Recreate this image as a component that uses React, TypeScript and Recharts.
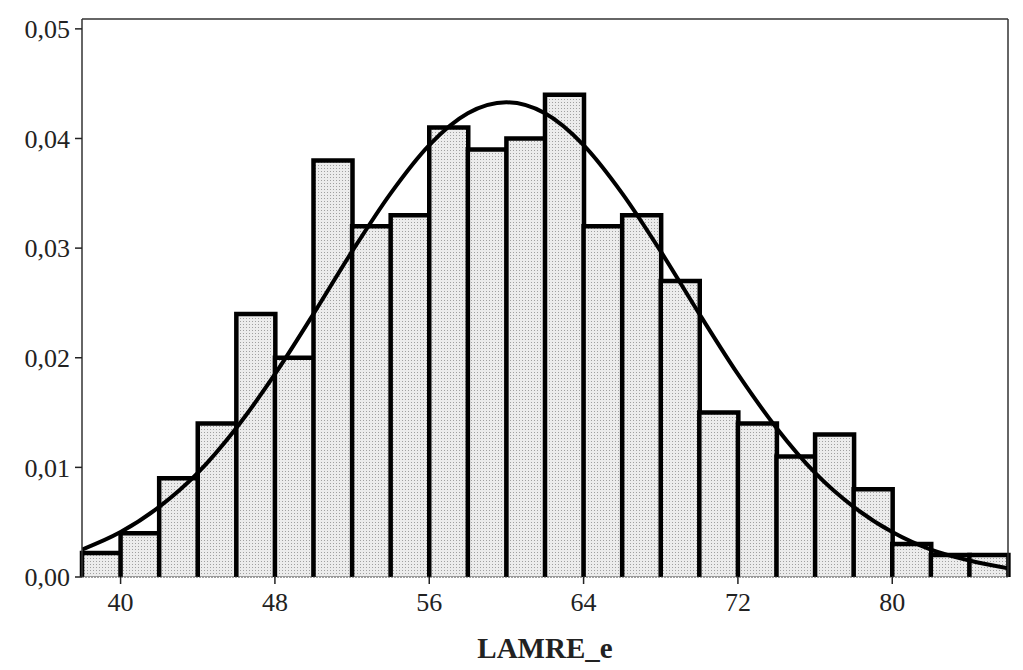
import React from "react";
import { Bar, ComposedChart, Line, XAxis, YAxis } from "recharts";

// histogram bins (width 2) and density per bin
const binLabels = [
  "38-40", "40-42", "42-44", "44-46", "46-48", "48-50", "50-52", "52-54",
  "54-56", "56-58", "58-60", "60-62", "62-64", "64-66", "66-68", "68-70",
  "70-72", "72-74", "74-76", "76-78", "78-80", "80-82", "82-84", "84-86",
];
const densities = [
  0.0022, 0.004, 0.009, 0.014, 0.024, 0.02, 0.038, 0.032, 0.033, 0.041, 0.039,
  0.04, 0.044, 0.032, 0.033, 0.027, 0.015, 0.014, 0.011, 0.013, 0.008, 0.003,
  0.002, 0.002,
];

// fitted curve
const curveX = [
  38, 40, 42, 44, 46, 48, 50, 52, 54, 56, 58, 60, 62, 64, 66, 68, 70, 72, 74,
  76, 78, 80, 82, 84, 86,
];
const curveY = [
  0.0025, 0.0041, 0.0064, 0.0095, 0.0136, 0.0185, 0.024, 0.0297, 0.035,
  0.0394, 0.0423, 0.0433, 0.0423, 0.0394, 0.035, 0.0297, 0.024, 0.0185,
  0.0136, 0.0095, 0.0064, 0.0041, 0.0025, 0.0015, 0.0008,
];

const xTicks = [40, 48, 56, 64, 72, 80];
const yTicks = [0, 0.01, 0.02, 0.03, 0.04, 0.05];

const barData = binLabels.map((bin, i) => ({ bin, density: densities[i] }));
const curveData = curveX.map((x, i) => ({ x, y: curveY[i] }));

const font = "'Liberation Serif', 'Times New Roman', serif";
const tickStyle = { fill: "#222", fontSize: 26, fontFamily: font };
const frame = { stroke: "#333", strokeWidth: 1.5 };

// open-bottom bar outline like the original
const HistBar = (props: any) => {
  const { x, y, width, height } = props;
  if (height == null || height <= 0) return null;
  const b = y + height;
  return (
    <g>
      <rect x={x} y={y} width={width} height={height} fill="url(#dots)" />
      <path
        d={`M${x},${b} L${x},${y} L${x + width},${y} L${x + width},${b}`}
        fill="none"
        stroke="#000"
        strokeWidth={4.5}
      />
    </g>
  );
};

export default function App() {
  return (
    <div style={{ position: "absolute", left: 0, top: 0, background: "#fff" }}>
      <ComposedChart
        width={1023}
        height={670}
        data={barData}
        barCategoryGap={0}
        barGap={0}
        margin={{ top: 18, right: 14, bottom: 0, left: 0 }}
      >
        <defs>
          <pattern id="dots" width="3" height="3" patternUnits="userSpaceOnUse">
            <rect width="3" height="3" fill="#ececec" />
            <rect width="1" height="1" fill="#a0a0a0" />
          </pattern>
        </defs>
        {/* category axis for the bars, drawn as the top frame line */}
        <XAxis
          xAxisId="cat"
          dataKey="bin"
          orientation="top"
          height={1}
          tick={false}
          tickLine={false}
          axisLine={frame}
        />
        <XAxis
          xAxisId="num"
          type="number"
          dataKey="x"
          domain={[38, 86]}
          ticks={xTicks}
          allowDataOverflow
          height={93}
          tick={tickStyle}
          tickSize={7}
          tickMargin={9}
          tickLine={{ stroke: "#222", strokeWidth: 1.5 }}
          axisLine={{ stroke: "#444", strokeWidth: 1.2, strokeDasharray: "2 1" }}
          label={{
            value: "LAMRE_e",
            position: "insideBottom",
            offset: 12,
            style: { fill: "#222", fontSize: 29, fontWeight: 700, fontFamily: font },
          }}
        />
        <YAxis
          yAxisId="left"
          domain={[0, 0.0509]}
          ticks={yTicks}
          allowDataOverflow
          width={82}
          tick={tickStyle}
          tickSize={7}
          tickMargin={5}
          tickLine={{ stroke: "#222", strokeWidth: 1.5 }}
          axisLine={frame}
          tickFormatter={(v: number) => v.toFixed(2).replace(".", ",")}
        />
        <YAxis
          yAxisId="right"
          orientation="right"
          domain={[0, 0.0509]}
          allowDataOverflow
          width={1}
          tick={false}
          tickLine={false}
          axisLine={frame}
        />
        <Bar
          xAxisId="cat"
          yAxisId="left"
          dataKey="density"
          shape={HistBar}
          isAnimationActive={false}
        />
        <Line
          xAxisId="num"
          yAxisId="right"
          data={curveData}
          dataKey="y"
          type="monotone"
          stroke="#000"
          strokeWidth={4}
          dot={false}
          activeDot={false}
          isAnimationActive={false}
        />
      </ComposedChart>
    </div>
  );
}
